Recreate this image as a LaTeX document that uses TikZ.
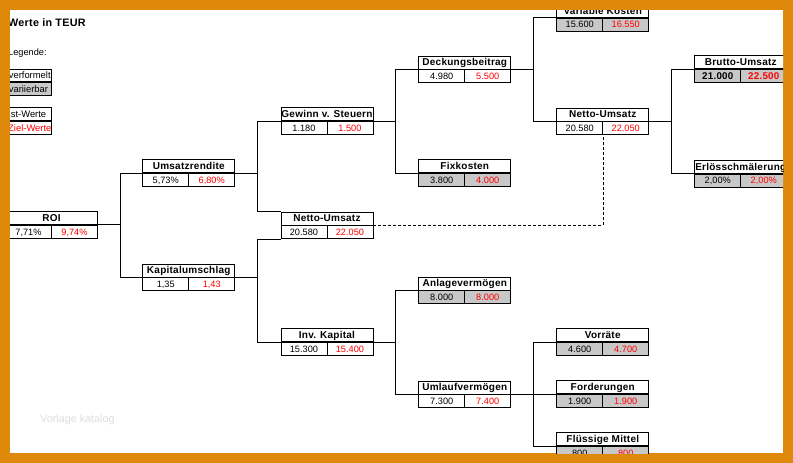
\documentclass[tikz,border=0pt]{standalone}
\usepackage{fontspec}
\setmainfont{Liberation Sans}
\newfontfamily\ttlfont[LetterSpace=2.5]{Liberation Sans}
\usetikzlibrary{calc}
\definecolor{frameorange}{RGB}{223,137,10}
\definecolor{cellgray}{RGB}{200,200,200}
\definecolor{wmgray}{RGB}{222,222,222}
\tikzset{
  ttl/.style={draw, line width=0.9pt, fill=white, minimum width=92pt, minimum height=13pt,
    inner sep=0pt, text height=7pt, text depth=0pt, font=\ttlfont\bfseries\fontsize{10}{12}\selectfont},
  val/.style={draw, line width=0.9pt, fill=white, minimum width=46pt, minimum height=13pt,
    inner sep=0pt, text height=6.6pt, text depth=0pt, font=\fontsize{9.2}{11}\selectfont},
  plain/.style={},
  inp/.style={fill=cellgray},
  bolder/.style={font=\ttlfont\bfseries\fontsize{9.8}{11}\selectfont},
  link/.style={line width=0.9pt, to path={-| ($(\tikztostart)!0.5!(\tikztotarget)$) |- (\tikztotarget)}},
  dashlink/.style={line width=0.9pt, dash pattern=on 3pt off 2pt},
  lgcell/.style={draw, line width=0.9pt, minimum height=12.7pt, inner sep=0pt,
    text height=6.6pt, text depth=0pt, font=\fontsize{9.4}{11}\selectfont},
}
% #1 name, #2 left x, #3 top y, #4 title, #5 ist, #6 ziel, #7 value style
\newcommand\kbox[7]{%
  \node[ttl, anchor=north west] (#1) at (#2,#3) {#4};
  \node[val, #7, anchor=north west] (#1-a) at (#1.south west) {#5};
  \node[val, #7, text=red, anchor=north east] (#1-b) at (#1.south east) {#6};
}
\begin{document}
\begin{tikzpicture}[x=1pt, y=-1pt]
\useasboundingbox (0,0) rectangle (793,463);
\fill[frameorange] (0,0) rectangle (793,463);
\fill[white] (10,10) rectangle (783,453);
\begin{scope}
\clip (10,10) rectangle (783,453);
% legend
\node[anchor=base west, inner sep=0pt, font=\ttlfont\bfseries\fontsize{10.8}{12}\selectfont] (head) at (8,27) {Werte in TEUR};
\node[anchor=base west, inner sep=0pt, font=\fontsize{9.2}{11}\selectfont] (leg) at (8,55) {Legende:};
\node[lgcell, fill=white, anchor=north west] (lg1) at (0,68.5) {\makebox[51pt][l]{\hspace{8.4pt}verformelt}};
\node[lgcell, fill=cellgray, anchor=north west] (lg2) at (lg1.south west) {\makebox[51pt][l]{\hspace{8.4pt}variierbar}};
\node[lgcell, fill=white, anchor=north west] (lg3) at (0,107.3) {\makebox[51pt][l]{\hspace{7.8pt}Ist-Werte}};
\node[lgcell, fill=white, text=red, anchor=north west] (lg4) at (lg3.south west) {\makebox[51pt][l]{\hspace{7.8pt}Ziel-Werte}};
% watermark
\node[anchor=base west, inner sep=0pt, text=wmgray, font=\fontsize{10.8}{12}\selectfont] (wm) at (40,422.5) {Vorlage katalog};
% boxes
\kbox{roi}{5}{211}{ROI}{7,71\%}{9,74\%}{plain}
\kbox{ums}{142.3}{159.3}{Umsatzrendite}{5,73\%}{6,80\%}{plain}
\kbox{kap}{142.3}{263.5}{Kapitalumschlag}{1,35}{1,43}{plain}
\kbox{gew}{280.5}{107.3}{Gewinn v. Steuern}{1.180}{1.500}{plain}
\kbox{nu2}{280.5}{211.5}{Netto-Umsatz}{20.580}{22.050}{plain}
\kbox{inv}{280.5}{328.3}{Inv. Kapital}{15.300}{15.400}{plain}
\kbox{deck}{418.3}{55.5}{Deckungsbeitrag}{4.980}{5.500}{plain}
\kbox{fix}{418.3}{159.3}{Fixkosten}{3.800}{4.000}{inp}
\kbox{anl}{418.3}{276.5}{Anlageverm\"ogen}{8.000}{8.000}{inp}
\kbox{uml}{418.3}{380.5}{Umlaufverm\"ogen}{7.300}{7.400}{plain}
\kbox{vk}{556.3}{3.7}{Variable Kosten}{15.600}{16.550}{inp}
\kbox{nu4}{556.3}{107.5}{Netto-Umsatz}{20.580}{22.050}{plain}
\kbox{vor}{556.3}{328.3}{Vorr\"ate}{4.600}{4.700}{inp}
\kbox{ford}{556.3}{380.3}{Forderungen}{1.900}{1.900}{inp}
\kbox{fl}{556.3}{432.3}{Fl\"ussige Mittel}{800}{800}{inp}
\kbox{brutto}{694.3}{55.3}{Brutto-Umsatz}{21.000}{22.500}{inp, bolder}
\kbox{erl}{694.3}{159.8}{Erl\"osschm\"alerung}{2,00\%}{2,00\%}{inp}
% connectors
\draw[link] (roi.south east) to (ums.south west);
\draw[link] (roi.south east) to (kap.south west);
\draw[link] (ums.south east) to (gew.south west);
\draw[link] (ums.south east) to (nu2.north west);
\draw[link] (kap.south east) to (nu2-a.south west);
\draw[link] (kap.south east) to (inv.south west);
\draw[link] (gew.south east) to (deck.south west);
\draw[link] (gew.south east) to (fix.south west);
\draw[link] (deck.south east) to (vk.south west);
\draw[link] (deck.south east) to (nu4.south west);
\draw[link] (nu4.south east) to (brutto.south west);
\draw[link] (nu4.south east) to (erl.south west);
\draw[link] (inv.south east) to (anl.south west);
\draw[link] (inv.south east) to (uml.south west);
\draw[link] (uml.south east) to (vor.south west);
\draw[link] (uml.south east) to (ford.south west);
\draw[link] (uml.south east) to (fl.south west);
\draw[dashlink] (nu2.south east) -| (nu4-a.south east);
\end{scope}
\end{tikzpicture}
\end{document}
